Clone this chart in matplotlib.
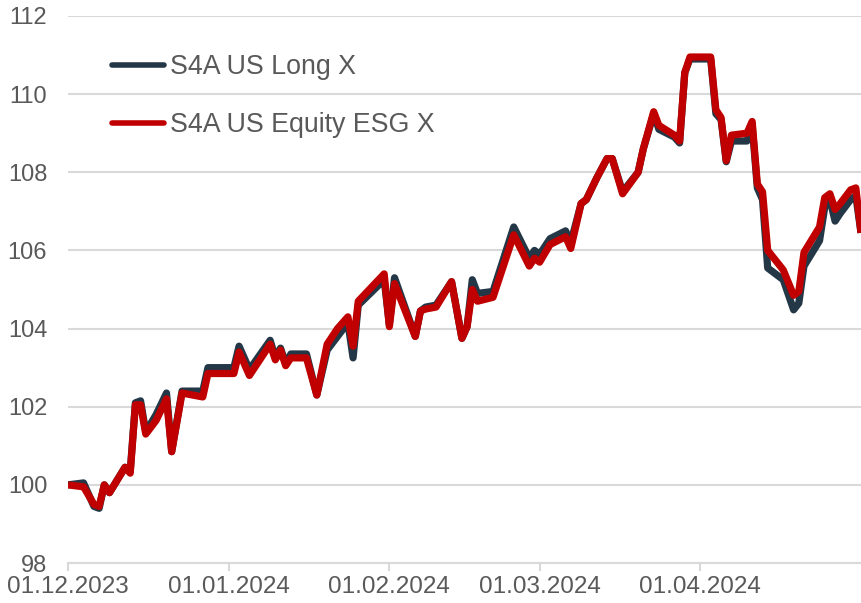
import matplotlib
matplotlib.use("Agg")
import matplotlib.pyplot as plt
import matplotlib.dates as mdates
import pandas as pd

# ═══ data ═══
dates = [
    "2023-12-01", "2023-12-04", "2023-12-06", "2023-12-07", "2023-12-08", "2023-12-09",
    "2023-12-12", "2023-12-13", "2023-12-14", "2023-12-15", "2023-12-16", "2023-12-18",
    "2023-12-20", "2023-12-21", "2023-12-23", "2023-12-27", "2023-12-28", "2024-01-02",
    "2024-01-03", "2024-01-05", "2024-01-09", "2024-01-10", "2024-01-11", "2024-01-12",
    "2024-01-13", "2024-01-16", "2024-01-18", "2024-01-20", "2024-01-22", "2024-01-24",
    "2024-01-25", "2024-01-26", "2024-01-31", "2024-02-01", "2024-02-02", "2024-02-06",
    "2024-02-07", "2024-02-08", "2024-02-10", "2024-02-13", "2024-02-15", "2024-02-16",
    "2024-02-17", "2024-02-18", "2024-02-21", "2024-02-25", "2024-02-28", "2024-02-29",
    "2024-03-01", "2024-03-03", "2024-03-06", "2024-03-07", "2024-03-09", "2024-03-10",
    "2024-03-12", "2024-03-14", "2024-03-15", "2024-03-17", "2024-03-20", "2024-03-21",
    "2024-03-23", "2024-03-24", "2024-03-27", "2024-03-28", "2024-03-29", "2024-03-30",
    "2024-04-03", "2024-04-04", "2024-04-05", "2024-04-06", "2024-04-07", "2024-04-10",
    "2024-04-11", "2024-04-12", "2024-04-13", "2024-04-14", "2024-04-17", "2024-04-19",
    "2024-04-20", "2024-04-21", "2024-04-24", "2024-04-25", "2024-04-26", "2024-04-27",
    "2024-04-28", "2024-04-30", "2024-05-01", "2024-05-02",
]
long_x = [
    100.0, 100.05, 99.45, 99.4, 100.0, 99.8,
    100.45, 100.35, 102.1, 102.15, 101.35, 101.8,
    102.35, 100.85, 102.4, 102.4, 103.0, 103.0,
    103.55, 102.95, 103.7, 103.25, 103.5, 103.1,
    103.35, 103.35, 102.3, 103.45, 103.8, 104.15,
    103.25, 104.6, 105.25, 104.1, 105.3, 103.8,
    104.45, 104.55, 104.6, 105.2, 103.75, 104.05,
    105.25, 104.9, 104.95, 106.6, 105.8, 106.0,
    105.9, 106.3, 106.5, 106.2, 107.2, 107.3,
    107.85, 108.35, 108.35, 107.5, 108.0, 108.6,
    109.5, 109.1, 108.9, 108.75, 110.55, 110.9,
    110.9, 109.5, 109.35, 108.27, 108.8, 108.8,
    109.2, 107.6, 107.3, 105.55, 105.25, 104.48,
    104.65, 105.6, 106.25, 107.1, 107.3, 106.75,
    106.95, 107.3, 107.4, 106.45,
]
esg_x = [
    100.0, 99.95, 99.5, 99.45, 100.0, 99.8,
    100.45, 100.3, 102.05, 102.05, 101.3, 101.65,
    102.2, 100.85, 102.35, 102.25, 102.85, 102.85,
    103.4, 102.8, 103.6, 103.2, 103.45, 103.05,
    103.25, 103.25, 102.3, 103.6, 104.0, 104.3,
    103.55, 104.7, 105.4, 104.05, 105.15, 103.8,
    104.45, 104.5, 104.55, 105.2, 103.75, 104.05,
    105.0, 104.7, 104.8, 106.4, 105.6, 105.8,
    105.7, 106.15, 106.35, 106.05, 107.2, 107.3,
    107.85, 108.35, 108.35, 107.45, 108.0, 108.6,
    109.55, 109.2, 108.95, 108.8, 110.55, 110.95,
    110.95, 109.6, 109.4, 108.3, 108.95, 109.0,
    109.3, 107.7, 107.5, 106.0, 105.5, 104.85,
    104.95, 105.95, 106.6, 107.35, 107.45, 107.05,
    107.2, 107.55, 107.6, 106.45,
]
month_ticks = ["2023-12-01", "2024-01-01", "2024-02-01", "2024-03-01", "2024-04-01"]
y_ticks = [98, 100, 102, 104, 106, 108, 110, 112]

x = pd.to_datetime(dates)

# ═══ style ═══
plt.rcParams['font.family'] = ['Liberation Sans', 'DejaVu Sans']
TXT = '#595959'
GRID = '#d9d9d9'
DARK = '#243746'
RED = '#c00000'

fig = plt.figure(figsize=(8.61, 6.03), dpi=100, facecolor='white')
ax = fig.add_axes([0.079, 0.0663, 0.921, 0.9072])

ax.plot(x, long_x, color=DARK, lw=5.2, solid_joinstyle='round', solid_capstyle='butt',
        label='S4A US Long X')
ax.plot(x, esg_x, color=RED, lw=5.2, solid_joinstyle='round', solid_capstyle='butt',
        label='S4A US Equity ESG X')

ax.set_ylim(98, 112)
ax.set_xlim(x[0], x[-1])
ax.set_yticks(y_ticks)
ax.set_xticks(pd.to_datetime(month_ticks))
ax.xaxis.set_major_formatter(mdates.DateFormatter('%d.%m.%Y'))

ax.grid(axis='y', color=GRID, lw=1.5)
ax.set_axisbelow(True)
for s in ['top', 'right', 'left']:
    ax.spines[s].set_visible(False)
ax.spines['bottom'].set_color(GRID)
ax.spines['bottom'].set_linewidth(1.5)

ax.tick_params(axis='y', length=0, pad=15, labelsize=17, labelcolor=TXT)
ax.tick_params(axis='x', length=6, width=1.5, color=GRID, pad=3, labelsize=17.5, labelcolor=TXT)

leg = ax.legend(loc='upper left', bbox_to_anchor=(0.055, 0.93), frameon=False,
                fontsize=19.3, handlelength=1.95, handletextpad=0.22, labelspacing=1.2,
                borderpad=0, borderaxespad=0)
for t in leg.get_texts():
    t.set_color(TXT)
for l in leg.get_lines():
    l.set_linewidth(4)
    l.set_solid_capstyle('round')

fig.savefig('out.png', dpi=100, facecolor='white')
